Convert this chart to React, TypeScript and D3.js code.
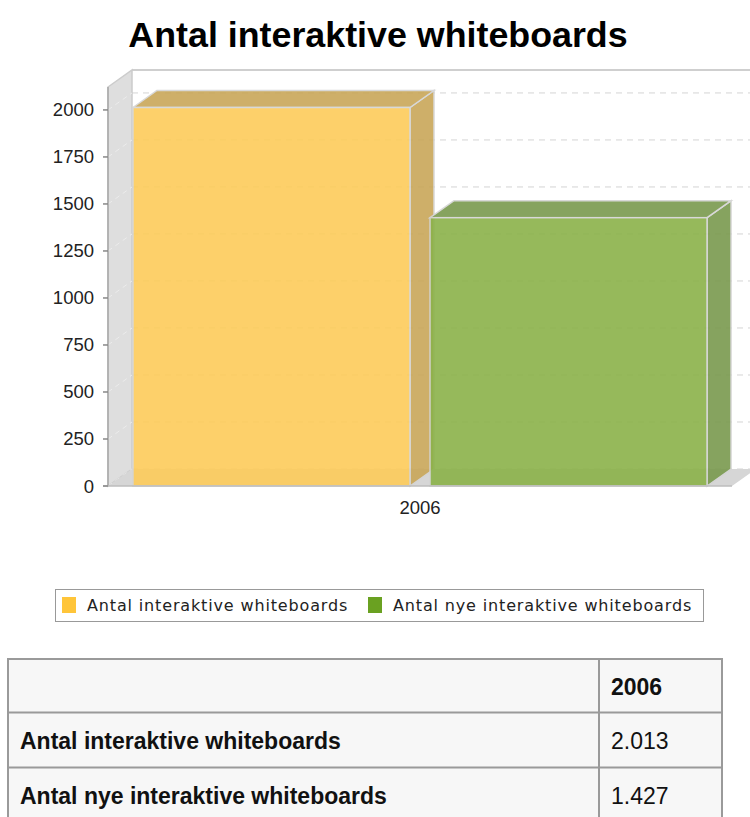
import React from "react";
import * as d3 from "d3";

// chart data
const categories = ["2006"];
const seriesNames = ["Antal interaktive whiteboards", "Antal nye interaktive whiteboards"];
const seriesValues = [2013, 1427];
const tableValues = ["2.013", "1.427"];
const yTicks = [0, 250, 500, 750, 1000, 1250, 1500, 1750, 2000];
const yMax = 2122;

const frontColors = ["#FDCC5A", "#8BB24A"];
const darkColors = ["#C9A759", "#7A9A4E"];
const legendColors = ["#FFC53A", "#6AA121"];

const W = 750;
const H = 817;
const DX = 24;
const DY = 17;

const App = () => {
  const y = d3.scaleLinear().domain([0, yMax]).range([486, 87]);
  const x0 = d3.scaleBand().domain(categories).range([108, 732]);
  const x1 = d3
    .scaleBand()
    .domain(seriesNames)
    .range([0, x0.bandwidth()])
    .paddingInner(0.0673)
    .paddingOuter(0.084);

  const left = 108;
  const right = 732;
  const bottom = y(0);
  const top = y(yMax);

  return (
    <svg
      width={W}
      height={H}
      style={{ position: "absolute", left: 0, top: 0, background: "#fff" }}
      fontFamily="'Liberation Sans', Arial, sans-serif"
    >
      {/* title */}
      <text x={378} y={47} textAnchor="middle" fontSize={35.8} fontWeight="bold" fill="#000">
        Antal interaktive whiteboards
      </text>

      {/* back wall */}
      <rect x={left + DX} y={top - DY} width={W} height={bottom - top} fill="#fff" />
      <line x1={left + DX} x2={W} y1={top - DY} y2={top - DY} stroke="#cfcfcf" strokeWidth={2} />
      {yTicks.map((t) => (
        <line
          key={"g" + t}
          x1={left + DX}
          x2={W}
          y1={y(t) - DY}
          y2={y(t) - DY}
          stroke="#d4d4d4"
          strokeDasharray="6,5"
        />
      ))}

      {/* left wall */}
      <polygon
        points={`${left},${top} ${left + DX},${top - DY} ${left + DX},${bottom - DY} ${left},${bottom}`}
        fill="#dedede"
        stroke="#cccccc"
        strokeWidth={1.5}
      />
      {yTicks.map((t) => (
        <line
          key={"w" + t}
          x1={left}
          x2={left + DX}
          y1={y(t)}
          y2={y(t) - DY}
          stroke="#ececec"
          strokeDasharray="5,4"
        />
      ))}

      {/* floor */}
      <polygon
        points={`${left},${bottom} ${right},${bottom} ${right + DX},${bottom - DY} ${left + DX},${bottom - DY}`}
        fill="#d6d6d6"
      />

      {/* bars */}
      {categories.map((c) => (
        <g key={c} transform={`translate(${x0(c)},0)`}>
          {seriesNames.map((s, i) => {
            const bx = x1(s) as number;
            const bw = x1.bandwidth();
            const by = y(seriesValues[i]);
            const xr = bx + bw;
            return (
              <g key={s} opacity={0.9}>
                <polygon
                  points={`${xr},${by} ${xr + DX},${by - DY} ${xr + DX},${bottom - DY} ${xr},${bottom}`}
                  fill={darkColors[i]}
                  stroke="#d4d4d4"
                  strokeWidth={1.5}
                />
                <polygon
                  points={`${bx},${by} ${bx + DX},${by - DY} ${xr + DX},${by - DY} ${xr},${by}`}
                  fill={darkColors[i]}
                  stroke="#d4d4d4"
                  strokeWidth={1.5}
                />
                <rect
                  x={bx}
                  y={by}
                  width={bw}
                  height={bottom - by}
                  fill={frontColors[i]}
                  stroke="#d4d4d4"
                  strokeWidth={1.5}
                />
              </g>
            );
          })}
        </g>
      ))}

      {/* axes */}
      <line x1={left} x2={left} y1={top} y2={bottom} stroke="#a8a8a8" strokeWidth={1.5} />
      <line x1={left - 5} x2={right} y1={bottom} y2={bottom} stroke="#bdbdbd" strokeWidth={1.5} />
      {yTicks.map((t) => (
        <g key={"t" + t}>
          <line x1={left - 5} x2={left} y1={y(t)} y2={y(t)} stroke="#888" strokeWidth={1.5} />
          <text x={94} y={y(t) + 6.5} textAnchor="end" fontSize={18.5} fill="#222">
            {t}
          </text>
        </g>
      ))}
      {categories.map((c) => (
        <text
          key={"c" + c}
          x={(x0(c) as number) + x0.bandwidth() / 2}
          y={514}
          textAnchor="middle"
          fontSize={18.5}
          fill="#222"
        >
          {c}
        </text>
      ))}

      {/* legend */}
      <rect x={55.5} y={589.5} width={648} height={32} fill="#fff" stroke="#999" />
      {seriesNames.map((s, i) => {
        const lx = [62, 368][i];
        return (
          <g key={"l" + s}>
            <rect x={lx} y={597} width={14} height={16} fill={legendColors[i]} />
            <text
              x={lx + 25}
              y={611}
              fontSize={16}
              letterSpacing={0.85}
              fontFamily="'DejaVu Sans', Verdana, sans-serif"
              fill="#222"
            >
              {s}
            </text>
          </g>
        );
      })}

      {/* data table */}
      <rect x={8} y={659} width={714} height={170} fill="#f7f7f7" stroke="#9a9a9a" strokeWidth={2} />
      <line x1={8} x2={722} y1={712.5} y2={712.5} stroke="#9a9a9a" strokeWidth={2} />
      <line x1={8} x2={722} y1={767.5} y2={767.5} stroke="#9a9a9a" strokeWidth={2} />
      <line x1={599} x2={599} y1={659} y2={817} stroke="#9a9a9a" strokeWidth={2} />
      <text x={611} y={695} fontSize={23} fontWeight="bold" fill="#111">
        {categories[0]}
      </text>
      {seriesNames.map((s, i) => (
        <g key={"r" + s}>
          <text x={20} y={749 + i * 55} fontSize={23} fontWeight="bold" fill="#111">
            {s}
          </text>
          <text x={611} y={749 + i * 55} fontSize={23} fill="#111">
            {tableValues[i]}
          </text>
        </g>
      ))}
    </svg>
  );
};

export default App;
